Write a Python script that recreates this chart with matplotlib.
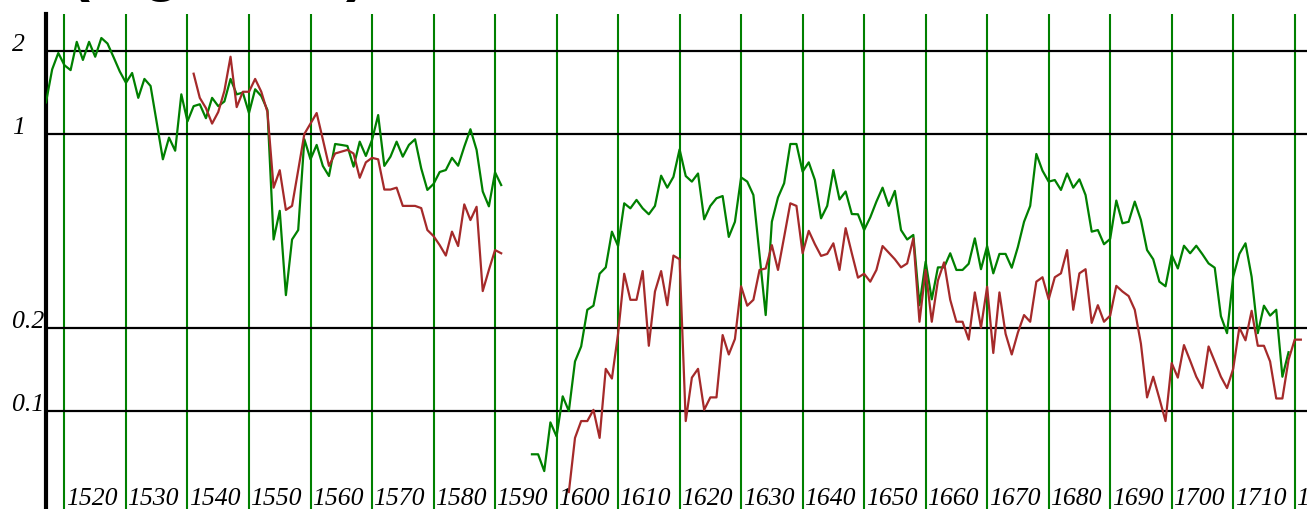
import numpy as np
import matplotlib
matplotlib.use("Agg")
import matplotlib.pyplot as plt
from matplotlib.ticker import NullLocator, NullFormatter
from matplotlib.transforms import ScaledTranslation, blended_transform_factory

# ---------------- data ----------------
green_a_years = list(range(1517, 1592))
green_a = [1.30, 1.71, 1.96, 1.77, 1.70, 2.15, 1.85, 2.15, 1.90, 2.22,
           2.12, 1.89, 1.68, 1.53, 1.66, 1.35, 1.58, 1.49, 1.10, 0.81,
           0.97, 0.87, 1.39, 1.11, 1.26, 1.28, 1.14, 1.35, 1.26, 1.31,
           1.58, 1.39, 1.41, 1.19, 1.45, 1.37, 1.22, 0.416, 0.528, 0.262,
           0.416, 0.450, 0.957, 0.81, 0.913, 0.767, 0.705, 0.92, 0.913, 0.905,
           0.762, 0.938, 0.833, 0.951, 1.17, 0.767, 0.828, 0.938, 0.828, 0.913,
           0.957, 0.751, 0.628, 0.66, 0.729, 0.741, 0.82, 0.768, 0.90, 1.04,
           0.876, 0.62, 0.548, 0.727, 0.654]

green_b_years = list(range(1596, 1720))
green_b = [0.0698, 0.0698, 0.0607, 0.091, 0.081, 0.113, 0.100, 0.151, 0.171, 0.232,
           0.240, 0.313, 0.330, 0.444, 0.394, 0.562, 0.539, 0.578, 0.539, 0.513,
           0.55, 0.707, 0.64, 0.70, 0.88, 0.705, 0.673, 0.72, 0.492, 0.55,
           0.586, 0.597, 0.425, 0.482, 0.697, 0.673, 0.602, 0.366, 0.222, 0.482,
           0.59, 0.664, 0.92, 0.92, 0.731, 0.79, 0.682, 0.496, 0.55, 0.741,
           0.58, 0.62, 0.514, 0.513, 0.450, 0.50, 0.57, 0.64, 0.55, 0.623,
           0.450, 0.416, 0.432, 0.241, 0.346, 0.253, 0.33, 0.33, 0.371, 0.323,
           0.323, 0.34, 0.42, 0.325, 0.394, 0.314, 0.369, 0.369, 0.329, 0.391,
           0.482, 0.55, 0.847, 0.737, 0.673, 0.682, 0.628, 0.72, 0.64, 0.686,
           0.602, 0.444, 0.450, 0.40, 0.418, 0.575, 0.476, 0.482, 0.57, 0.489,
           0.381, 0.353, 0.293, 0.282, 0.366, 0.327, 0.395, 0.371, 0.395, 0.368,
           0.341, 0.329, 0.22, 0.191, 0.305, 0.369, 0.403, 0.305, 0.191, 0.24,
           0.221, 0.232, 0.133, 0.163]

red_a_years = list(range(1541, 1592))
red_a = [1.65, 1.35, 1.24, 1.09, 1.20, 1.43, 1.90, 1.25, 1.42, 1.42,
         1.58, 1.42, 1.20, 0.64, 0.74, 0.532, 0.55, 0.74, 1.0, 1.09,
         1.19, 0.957, 0.767, 0.85, 0.863, 0.876, 0.85, 0.695, 0.79, 0.82,
         0.81, 0.63, 0.63, 0.64, 0.55, 0.55, 0.55, 0.54, 0.450, 0.428,
         0.397, 0.364, 0.444, 0.394, 0.557, 0.489, 0.546, 0.271, 0.323, 0.381,
         0.371]

red_b_years = list(range(1602, 1722))
red_b = [0.051, 0.080, 0.092, 0.092, 0.101, 0.080, 0.142, 0.131, 0.19, 0.313,
         0.252, 0.252, 0.32, 0.172, 0.27, 0.32, 0.241, 0.364, 0.353, 0.092,
         0.132, 0.142, 0.101, 0.112, 0.112, 0.188, 0.16, 0.182, 0.282, 0.24,
         0.252, 0.323, 0.327, 0.397, 0.323, 0.425, 0.562, 0.55, 0.371, 0.447,
         0.40, 0.363, 0.369, 0.403, 0.323, 0.457, 0.371, 0.303, 0.313, 0.293,
         0.323, 0.394, 0.373, 0.353, 0.33, 0.341, 0.42, 0.21, 0.323, 0.21,
         0.296, 0.344, 0.252, 0.21, 0.21, 0.181, 0.268, 0.20, 0.281, 0.162,
         0.268, 0.19, 0.16, 0.192, 0.222, 0.21, 0.293, 0.304, 0.253, 0.304,
         0.314, 0.381, 0.232, 0.314, 0.325, 0.208, 0.241, 0.21, 0.221, 0.283,
         0.27, 0.26, 0.232, 0.175, 0.112, 0.133, 0.111, 0.092, 0.149, 0.132,
         0.173, 0.152, 0.133, 0.121, 0.171, 0.151, 0.133, 0.121, 0.142, 0.20,
         0.18, 0.23, 0.172, 0.172, 0.151, 0.111, 0.111, 0.153, 0.181, 0.181]

decades = list(range(1520, 1730, 10))
decade_labels = [str(d) for d in decades]
y_ticks = [0.1, 0.2, 1, 2]
y_labels = ["0.1", "0.2", "1", "2"]
title_text = "(log scale)"

GREEN = "#008000"
RED = "#a52a2a"

# ---------------- figure ----------------
W, H = 1307, 509
fig = plt.figure(figsize=(W / 100, H / 100), dpi=100)
ax = fig.add_axes([46 / W, 0, 1 - 46 / W, 1 - 14 / H])
ax.set_yscale("log")
ax.set_xlim(1517.0, 1722.0)
ax.set_ylim(0.0443, 2.71)

for s in ("top", "right", "bottom"):
    ax.spines[s].set_visible(False)
ax.spines["left"].set_linewidth(3.0)
ax.spines["left"].set_color("black")

ax.yaxis.set_minor_locator(NullLocator())
ax.xaxis.set_minor_locator(NullLocator())
ax.set_xticks(decades)
ax.set_yticks(y_ticks)
ax.xaxis.set_major_formatter(NullFormatter())
ax.yaxis.set_major_formatter(NullFormatter())
ax.tick_params(length=0)

ax.grid(True, axis="x", color=GREEN, linewidth=1.5, zorder=1)
ax.grid(True, axis="y", color="black", linewidth=1.6, zorder=1)
ax.set_axisbelow(True)

lab_font = dict(family="Liberation Serif", fontstyle="italic", fontsize=18.5)

# year labels inside the plot, just right of each decade line
x_off = ScaledTranslation(1.5 / 100, 4 / 100, fig.dpi_scale_trans)
for d, t in zip(decades, decade_labels):
    ax.text(d, 0, t, transform=ax.get_xaxis_transform() + x_off,
            ha="left", va="baseline", clip_on=False, **lab_font)

# value labels at the far left, sitting on their grid lines
y_trans = blended_transform_factory(fig.transFigure, ax.transData)
for v, t in zip(y_ticks, y_labels):
    ax.text(12 / W, v, t, transform=y_trans,
            ha="left", va="baseline", clip_on=False, **lab_font)

lw = 1.6
ax.plot(green_a_years, green_a, color=GREEN, lw=lw, zorder=3)
ax.plot(green_b_years, green_b, color=GREEN, lw=lw, zorder=3)
ax.plot(red_a_years, red_a, color=RED, lw=lw, zorder=3)
ax.plot(red_b_years, red_b, color=RED, lw=lw, zorder=3)

# title mostly outside the top edge, as in the reference
fig.text(70 / W, 1 + 10 / H, title_text, fontsize=43, fontweight="bold",
         fontstyle="normal", family="Liberation Sans", va="baseline", ha="left")

fig.savefig("out.png", dpi=100)
